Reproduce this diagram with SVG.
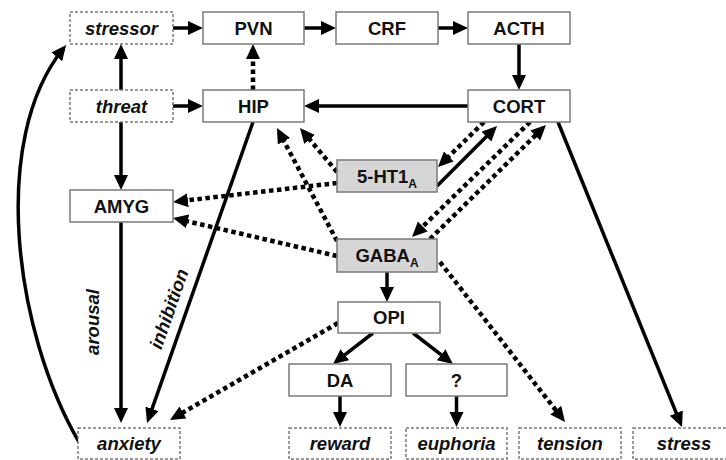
<svg xmlns="http://www.w3.org/2000/svg" width="726" height="460" viewBox="0 0 726 460">
<style>
.box{fill:#fff;stroke:#7a7a7a;stroke-width:1.5}
.gbox{fill:#d6d6d6;stroke:#7a7a7a;stroke-width:1.5}
.dbox{fill:#fff;stroke:#7a7a7a;stroke-width:1.5;stroke-dasharray:3 2}
.t{font-family:"Liberation Sans",Arial,sans-serif;font-size:18.5px;font-weight:bold;fill:#111;text-anchor:middle}
.i{font-style:italic}
.sub{font-size:12px}
.s{fill:none;stroke:#000;stroke-width:3.5;marker-end:url(#ah)}
.d{fill:none;stroke:#000;stroke-width:4.5;stroke-dasharray:4.5 3.5;marker-end:url(#ah)}
</style>
<defs>
<marker id="ah" markerUnits="userSpaceOnUse" markerWidth="18" markerHeight="16" refX="10" refY="7" orient="auto">
<path d="M0,0 L15,7 L0,14 z" fill="#000"/>
</marker>
</defs>
<rect width="726" height="460" fill="#fff"/>
<g id="connectors">
<path class="s" d="M173,28 L198,28"/>
<path class="s" d="M304,28 L331,28"/>
<path class="s" d="M438,28 L463,28"/>
<path class="s" d="M519,44 L519,85"/>
<path class="s" d="M173,106 L198,106"/>
<path class="s" d="M468,106 L309,106"/>
<path class="d" d="M253,90 L253,49"/>
<path class="s" d="M121,90 L121,49"/>
<path class="s" d="M121,122 L121,185"/>
<path class="s" d="M121,222 L121,418"/>
<path class="s" d="M253,122 L148.7,418.3"/>
<path class="s" d="M79,442 C14,330 -10,140 63,49"/>
<path class="d" d="M337,172 L303.2,131.8"/>
<path class="d" d="M337,241 L279.3,132.4"/>
<path class="d" d="M337,183 L178,201.4"/>
<path class="d" d="M337,256 L177.9,219.1"/>
<path class="d" d="M484,122 L441.6,163.5"/>
<path class="s" d="M437,186 L493.5,129.5"/>
<path class="d" d="M530,122 L415.6,233.5"/>
<path class="d" d="M430,239 L542.4,128.5"/>
<path class="s" d="M387,272 L387,297"/>
<path class="d" d="M440,262 L561.9,418"/>
<path class="s" d="M558,122 L680.1,422.4"/>
<path class="s" d="M373,333 L337,360.9"/>
<path class="s" d="M413,333 L449,360.9"/>
<path class="s" d="M340,396 L340,422"/>
<path class="s" d="M456.5,396 L456.5,422"/>
<path class="d" d="M338,323 L174.3,417.5"/>
<text class="t i" transform="translate(99,322) rotate(-90)">arousal</text>
<text class="t i" transform="translate(175,311) rotate(-70.8)">inhibition</text>
</g>
<g id="stressor"><rect class="dbox" x="70" y="12" width="103" height="32"/><text class="t i" x="121.5" y="34.5">stressor</text></g>
<g id="PVN"><rect class="box" x="203" y="12" width="101" height="32"/><text class="t" x="253.5" y="34.5">PVN</text></g>
<g id="CRF"><rect class="box" x="336" y="12" width="102" height="32"/><text class="t" x="387" y="34.5">CRF</text></g>
<g id="ACTH"><rect class="box" x="468" y="12" width="102" height="32"/><text class="t" x="519" y="34.5">ACTH</text></g>
<g id="threat"><rect class="dbox" x="70" y="90" width="103" height="32"/><text class="t i" x="121.5" y="112.5">threat</text></g>
<g id="HIP"><rect class="box" x="203" y="90" width="101" height="32"/><text class="t" x="253.5" y="112.5">HIP</text></g>
<g id="CORT"><rect class="box" x="468" y="90" width="102" height="32"/><text class="t" x="519" y="112.5">CORT</text></g>
<g id="AMYG"><rect class="box" x="70" y="190" width="103" height="32"/><text class="t" x="121.5" y="212.5">AMYG</text></g>
<g id="HT1A"><rect class="gbox" x="337" y="160" width="100" height="32"/><text class="t" x="387" y="182.5">5-HT1<tspan class="sub" dy="5">A</tspan></text></g>
<g id="GABAA"><rect class="gbox" x="337" y="239" width="100" height="33"/><text class="t" x="387" y="262">GABA<tspan class="sub" dy="5">A</tspan></text></g>
<g id="OPI"><rect class="box" x="338" y="302" width="102" height="31"/><text class="t" x="389" y="324">OPI</text></g>
<g id="DA"><rect class="box" x="289" y="364" width="102" height="32"/><text class="t" x="340" y="386.5">DA</text></g>
<g id="Q"><rect class="box" x="406" y="364" width="101" height="32"/><text class="t" x="456.5" y="386.5">?</text></g>
<g id="anxiety"><rect class="dbox" x="78" y="428" width="102" height="31"/><text class="t i" x="129" y="450">anxiety</text></g>
<g id="reward"><rect class="dbox" x="289" y="428" width="102" height="31"/><text class="t i" x="340" y="450">reward</text></g>
<g id="euphoria"><rect class="dbox" x="406" y="428" width="101" height="31"/><text class="t i" x="456.5" y="450">euphoria</text></g>
<g id="tension"><rect class="dbox" x="519" y="428" width="102" height="31"/><text class="t i" x="570" y="450">tension</text></g>
<g id="stress"><rect class="dbox" x="633" y="428" width="102" height="31"/><text class="t i" x="684" y="450">stress</text></g>
</svg>
